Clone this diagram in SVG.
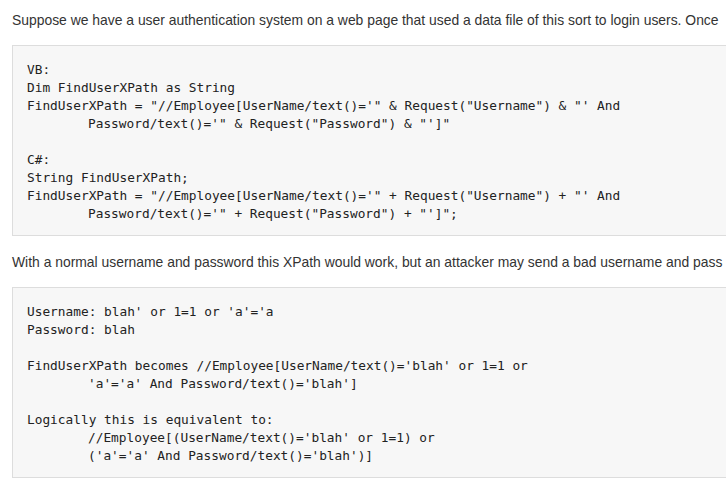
<svg xmlns="http://www.w3.org/2000/svg" width="726" height="493" viewBox="0 0 726 493">
<style>
.p{font-family:"Liberation Sans",Arial,sans-serif;font-size:13.9px;fill:#333}
.c{font-family:"DejaVu Sans Mono","Liberation Mono",monospace;font-size:12.8px;fill:#222}
.box{fill:#f7f7f7;stroke:#ddd;stroke-width:1}
</style>
<rect width="726" height="493" fill="#fff"/>
<text class="p" x="12" y="25">Suppose we have a user authentication system on a web page that used a data file of this sort to login users. Once</text>
<rect class="box" x="12.5" y="45.5" width="730" height="190"/>
<g class="c">
<text x="27" y="74">VB:</text>
<text x="27" y="92">Dim FindUserXPath as String</text>
<text x="27" y="110">FindUserXPath = "//Employee[UserName/text()='" &amp; Request("Username") &amp; "' And</text>
<text x="88" y="128">Password/text()='" &amp; Request("Password") &amp; "']"</text>
<text x="27" y="164">C#:</text>
<text x="27" y="182">String FindUserXPath;</text>
<text x="27" y="200">FindUserXPath = "//Employee[UserName/text()='" + Request("Username") + "' And</text>
<text x="88" y="218">Password/text()='" + Request("Password") + "']";</text>
</g>
<text class="p" x="12" y="267">With a normal username and password this XPath would work, but an attacker may send a bad username and pass</text>
<rect class="box" x="12.5" y="287.5" width="730" height="190"/>
<g class="c">
<text x="27" y="316">Username: blah' or 1=1 or 'a'='a</text>
<text x="27" y="334">Password: blah</text>
<text x="27" y="370">FindUserXPath becomes //Employee[UserName/text()='blah' or 1=1 or</text>
<text x="88" y="388">'a'='a' And Password/text()='blah']</text>
<text x="27" y="424">Logically this is equivalent to:</text>
<text x="88" y="442">//Employee[(UserName/text()='blah' or 1=1) or</text>
<text x="88" y="460">('a'='a' And Password/text()='blah')]</text>
</g>
</svg>
